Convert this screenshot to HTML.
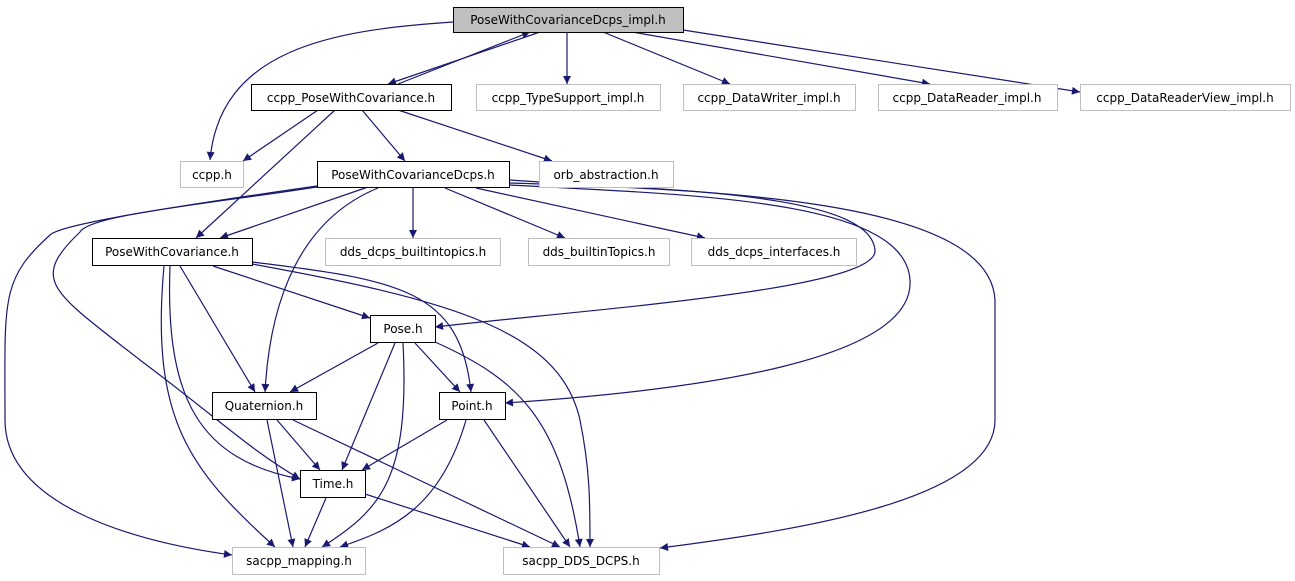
<!DOCTYPE html>
<html><head><meta charset="utf-8"><style>
html,body{margin:0;padding:0;background:#fff;}
svg{display:block;}
text{font-family:"DejaVu Sans","Liberation Sans",sans-serif;font-size:12px;fill:#000;}
</style></head><body>
<svg width="1295" height="581" viewBox="0 0 1295 581" xmlns="http://www.w3.org/2000/svg">
<defs>
<marker id="a" viewBox="0 0 10 10" refX="10" refY="5" markerWidth="10" markerHeight="8" markerUnits="userSpaceOnUse" orient="auto">
<path d="M0,0 L10,5 L0,10 z" fill="#191970"/></marker>
</defs>
<g fill="none" stroke="#191970" stroke-width="1.2" marker-end="url(#a)">
<path d="M453,22 C330,30 220,50 210,160"/>
<path d="M540,32 L388,84"/>
<path d="M398,84 L530,32"/>
<path d="M567,32 L567,84"/>
<path d="M603,32 L730,84"/>
<path d="M632,32 L930,84"/>
<path d="M683,30 L1080,92"/>
<path d="M318,110 L243,161"/>
<path d="M362,110 L405,161"/>
<path d="M398,110 L552,161"/>
<path d="M335,110 L196,238"/>
<path d="M368,187 L220,238"/>
<path d="M413,188 L413,238"/>
<path d="M445,188 L565,238"/>
<path d="M476,188 L705,238"/>
<path d="M509,180 C650,190 870,190 875,250 C880,290 580,310 435,327"/>
<path d="M509,185 C700,195 905,200 910,280 C915,360 700,390 505,403"/>
<path d="M509,183 C750,190 990,205 995,300 L995,420 C995,500 800,530 660,548"/>
<path d="M378,188 C300,220 270,300 265,392"/>
<path d="M317,187 C200,205 90,215 80,232 C30,280 50,290 140,360 C220,420 250,450 300,479"/>
<path d="M317,186 C150,210 60,225 50,235 C0,280 5,300 5,420 C5,500 120,540 232,555"/>
<path d="M213,266 L370,318"/>
<path d="M180,266 L255,392"/>
<path d="M170,266 C165,400 200,460 300,479"/>
<path d="M164,266 C150,420 190,470 275,547"/>
<path d="M252,262 C400,280 460,290 471,392"/>
<path d="M252,264 C450,300 560,330 580,420 C590,470 590,500 590,547"/>
<path d="M378,343 L290,392"/>
<path d="M415,343 L460,392"/>
<path d="M395,343 L342,470"/>
<path d="M403,343 C410,480 380,510 322,547"/>
<path d="M435,342 C520,380 560,420 580,547"/>
<path d="M277,420 L320,470"/>
<path d="M267,420 L293,547"/>
<path d="M293,420 L560,547"/>
<path d="M447,420 L362,470"/>
<path d="M466,420 C440,510 390,530 340,547"/>
<path d="M484,420 L570,547"/>
<path d="M326,498 L305,547"/>
<path d="M365,494 L530,547"/>
</g>
<g stroke-width="1">
<rect x="453.5" y="7.5" width="230" height="25" fill="#bfbfbf" stroke="#000"/>
<rect x="251.5" y="84.5" width="200" height="26" fill="#fff" stroke="#000"/>
<rect x="476.5" y="84.5" width="184" height="26" fill="#fff" stroke="#bfbfbf"/>
<rect x="683.5" y="84.5" width="172" height="26" fill="#fff" stroke="#bfbfbf"/>
<rect x="878.5" y="84.5" width="179" height="26" fill="#fff" stroke="#bfbfbf"/>
<rect x="1080.5" y="84.5" width="210" height="26" fill="#fff" stroke="#bfbfbf"/>
<rect x="180.5" y="161.5" width="63" height="26" fill="#fff" stroke="#bfbfbf"/>
<rect x="317.5" y="161.5" width="192" height="26" fill="#fff" stroke="#000"/>
<rect x="539.5" y="161.5" width="134" height="26" fill="#fff" stroke="#bfbfbf"/>
<rect x="92.5" y="238.5" width="160" height="27" fill="#fff" stroke="#000"/>
<rect x="325.5" y="238.5" width="175" height="27" fill="#fff" stroke="#bfbfbf"/>
<rect x="528.5" y="238.5" width="141" height="27" fill="#fff" stroke="#bfbfbf"/>
<rect x="691.5" y="238.5" width="165" height="27" fill="#fff" stroke="#bfbfbf"/>
<rect x="370.5" y="315.5" width="65" height="27" fill="#fff" stroke="#000"/>
<rect x="212.5" y="392.5" width="104" height="27" fill="#fff" stroke="#000"/>
<rect x="439.5" y="392.5" width="66" height="27" fill="#fff" stroke="#000"/>
<rect x="300.5" y="470.5" width="65" height="27" fill="#fff" stroke="#000"/>
<rect x="232.5" y="547.5" width="133" height="27" fill="#fff" stroke="#bfbfbf"/>
<rect x="503.5" y="547.5" width="156" height="27" fill="#fff" stroke="#bfbfbf"/>
</g>
<g text-anchor="middle">
<text x="568" y="24">PoseWithCovarianceDcps_impl.h</text>
<text x="351" y="102">ccpp_PoseWithCovariance.h</text>
<text x="568" y="102">ccpp_TypeSupport_impl.h</text>
<text x="769" y="102">ccpp_DataWriter_impl.h</text>
<text x="967" y="102">ccpp_DataReader_impl.h</text>
<text x="1185" y="102">ccpp_DataReaderView_impl.h</text>
<text x="212" y="179">ccpp.h</text>
<text x="413" y="179">PoseWithCovarianceDcps.h</text>
<text x="606" y="179">orb_abstraction.h</text>
<text x="172" y="256">PoseWithCovariance.h</text>
<text x="413" y="256">dds_dcps_builtintopics.h</text>
<text x="599" y="256">dds_builtinTopics.h</text>
<text x="774" y="256">dds_dcps_interfaces.h</text>
<text x="403" y="333">Pose.h</text>
<text x="264" y="410">Quaternion.h</text>
<text x="472" y="410">Point.h</text>
<text x="333" y="488">Time.h</text>
<text x="299" y="565">sacpp_mapping.h</text>
<text x="581" y="565">sacpp_DDS_DCPS.h</text>
</g>
</svg>
</body></html>
